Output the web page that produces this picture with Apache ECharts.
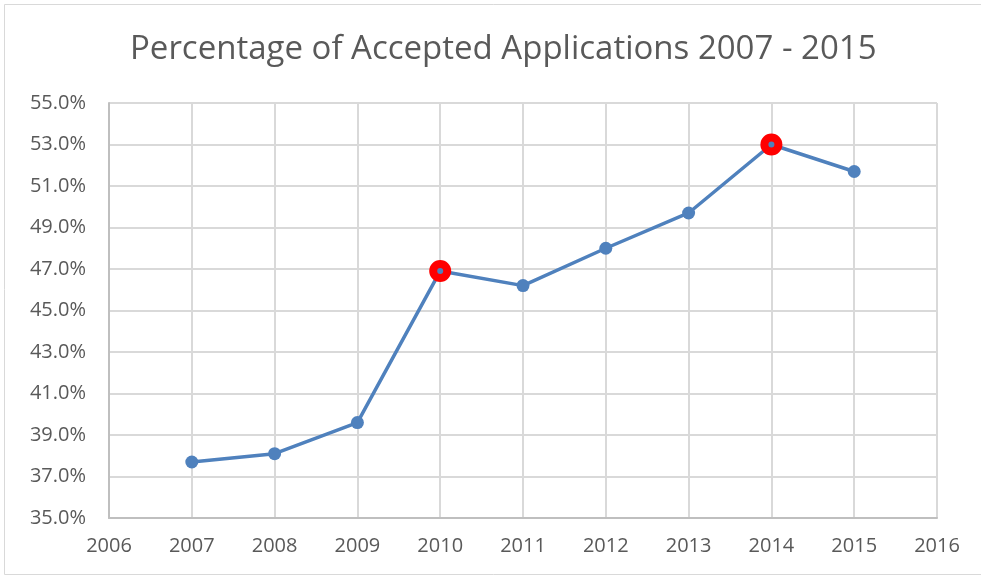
<!DOCTYPE html>
<html>
<head>
<meta charset="utf-8">
<script src="https://cdn.jsdelivr.net/npm/echarts@6/dist/echarts.min.js"></script>
<style>
  html, body { margin: 0; padding: 0; background: #fff; }
  #chart { width: 981px; height: 579px; }
</style>
</head>
<body>
<div id="chart"></div>
<script>
// data
var years = [2007, 2008, 2009, 2010, 2011, 2012, 2013, 2014, 2015]
var accepted = [37.7, 38.1, 39.6, 46.9, 46.2, 48.0, 49.7, 53.0, 51.7]
var highlighted = [2010, 2014] // red-ringed points

var chart = echarts.init(document.getElementById('chart'))

var seriesData = years.map(function (y, i) {
  var item = { value: [y, accepted[i]] }
  if (highlighted.indexOf(y) !== -1) {
    item.symbolSize = 14
    item.itemStyle = { color: '#4F81BD', borderColor: '#FF0000', borderWidth: 8 }
  }
  return item
})

chart.setOption({
  animation: false,
  graphic: [{
    type: 'rect',
    shape: { x: 4.5, y: 4.5, width: 990, height: 570 },
    style: { fill: 'none', stroke: '#d9d9d9', lineWidth: 1 }
  }],
  title: {
    text: 'Percentage of Accepted Applications 2007 - 2015',
    left: 125,
    top: 28,
    textStyle: {
      color: '#595959',
      fontFamily: 'Open Sans',
      fontWeight: 'normal',
      fontSize: 33
    }
  },
  grid: {
    left: 109,
    right: 44,
    top: 103,
    bottom: 61,
    containLabel: false
  },
  xAxis: {
    type: 'value',
    min: 2006,
    max: 2016,
    interval: 1,
    axisLine: { show: true, lineStyle: { color: '#bfbfbf', width: 2 } },
    axisTick: { show: false },
    axisLabel: {
      color: '#595959',
      fontFamily: 'Open Sans',
      fontSize: 20,
      margin: 18,
      formatter: function (v) { return String(v) }
    },
    splitLine: { show: true, lineStyle: { color: '#d9d9d9', width: 2 } }
  },
  yAxis: {
    type: 'value',
    min: 35,
    max: 55,
    interval: 2,
    axisLine: { show: true, lineStyle: { color: '#bfbfbf', width: 2 } },
    axisTick: { show: false },
    axisLabel: {
      color: '#595959',
      fontFamily: 'Open Sans',
      fontSize: 20,
      margin: 23,
      formatter: function (v) { return v.toFixed(1) + '%' }
    },
    splitLine: { show: true, lineStyle: { color: '#d9d9d9', width: 2 } }
  },
  series: [{
    type: 'line',
    data: seriesData,
    symbol: 'circle',
    symbolSize: 13,
    itemStyle: { color: '#4F81BD' },
    lineStyle: { color: '#4F81BD', width: 3.5 }
  }]
})
</script>
</body>
</html>
